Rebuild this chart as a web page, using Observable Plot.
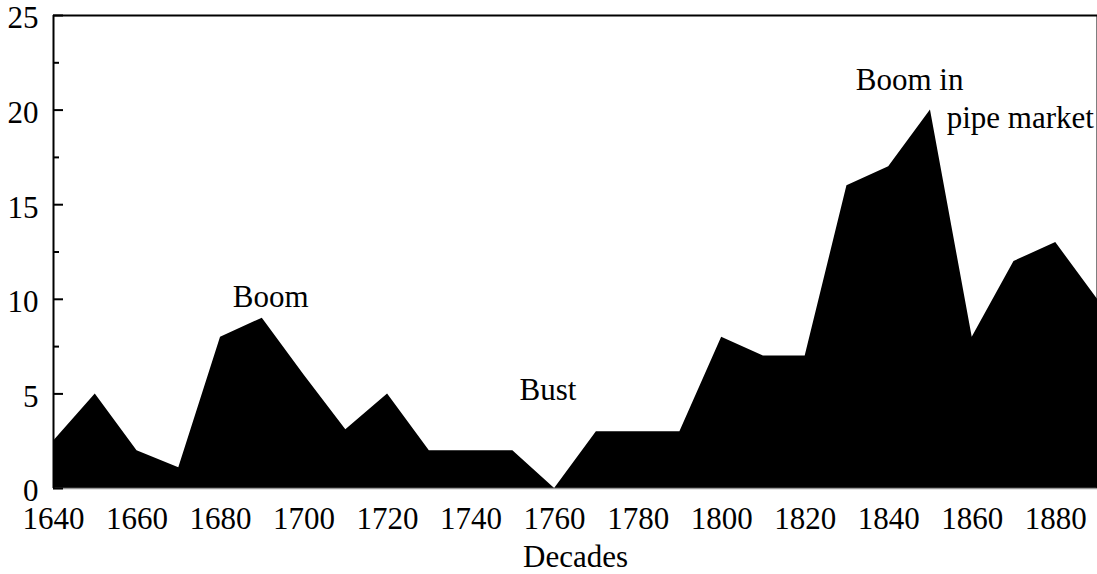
<!DOCTYPE html>
<html><head><meta charset="utf-8">
<script src="https://cdn.jsdelivr.net/npm/d3@7"></script>
<script src="https://cdn.jsdelivr.net/npm/@observablehq/plot@0.6"></script>
<style>body{margin:0;background:#fff}</style>
</head><body><div id="chart"></div>
<script>
const decades = [1640,1650,1660,1670,1680,1690,1700,1710,1720,1730,1740,1750,1760,1770,1780,1790,1800,1810,1820,1830,1840,1850,1860,1870,1880,1890];
const counts  = [2.5,5,2,1.1,8,9,6,3.1,5,2,2,2,0,3,3,3,8,7,7,16,17,20,8,12,13,10];
const xTicks = [1640,1660,1680,1700,1720,1740,1760,1780,1800,1820,1840,1860,1880];
const yMajor = [0,5,10,15,20,25];
const yMinor = [2.5,7.5,12.5,17.5,22.5];
const noteText = ["Boom","Bust","Boom in","pipe market"];
const noteX = [1692,1758.4,1845,1871.5];
const noteY = [10.1,5.2,21.6,19.6];

const data = decades.map((d,i)=>({decade:d, count:counts[i]}));
const notes = noteText.map((t,i)=>({text:t, x:noteX[i], y:noteY[i]}));

const FS = 31;
const chart = Plot.plot({
  width: 1097, height: 574,
  marginLeft: 53, marginRight: 0, marginTop: 15, marginBottom: 86,
  style: {fontFamily: "'Liberation Serif', serif", fontSize: FS + "px", background: "white", color: "black"},
  x: {domain: [1640,1890]},
  y: {domain: [0,25]},
  marks: [
    Plot.areaY(data, {x: "decade", y: "count", fill: "black", curve: "linear"}),
    Plot.ruleY([0], {stroke: "#999", strokeWidth: 1.5}),
    Plot.ruleY([25], {stroke: "black", strokeWidth: 2}),
    Plot.ruleX([1640], {stroke: "black", strokeWidth: 2}),
    Plot.ruleX([1890], {stroke: "black", strokeWidth: 2}),
    Plot.axisY(yMajor, {tickSize: -10, strokeWidth: 2, tickFormat: () => null, label: null}),
    Plot.axisY(yMajor, {tickSize: 0, tickPadding: 15, dy: 3, fontSize: FS, label: null}),
    Plot.axisY(yMinor, {tickSize: -6, strokeWidth: 2, tickFormat: () => null, label: null}),
    Plot.axisX(xTicks, {tickSize: 0, tickPadding: 18, fontSize: FS, tickFormat: d => String(d), label: null}),
    Plot.text(["Decades"], {frameAnchor: "bottom", dy: 78, fontSize: FS}),
    Plot.text(notes, {x: "x", y: "y", text: "text", fontSize: FS})
  ]
});
document.getElementById("chart").appendChild(chart);
</script>
</body></html>
